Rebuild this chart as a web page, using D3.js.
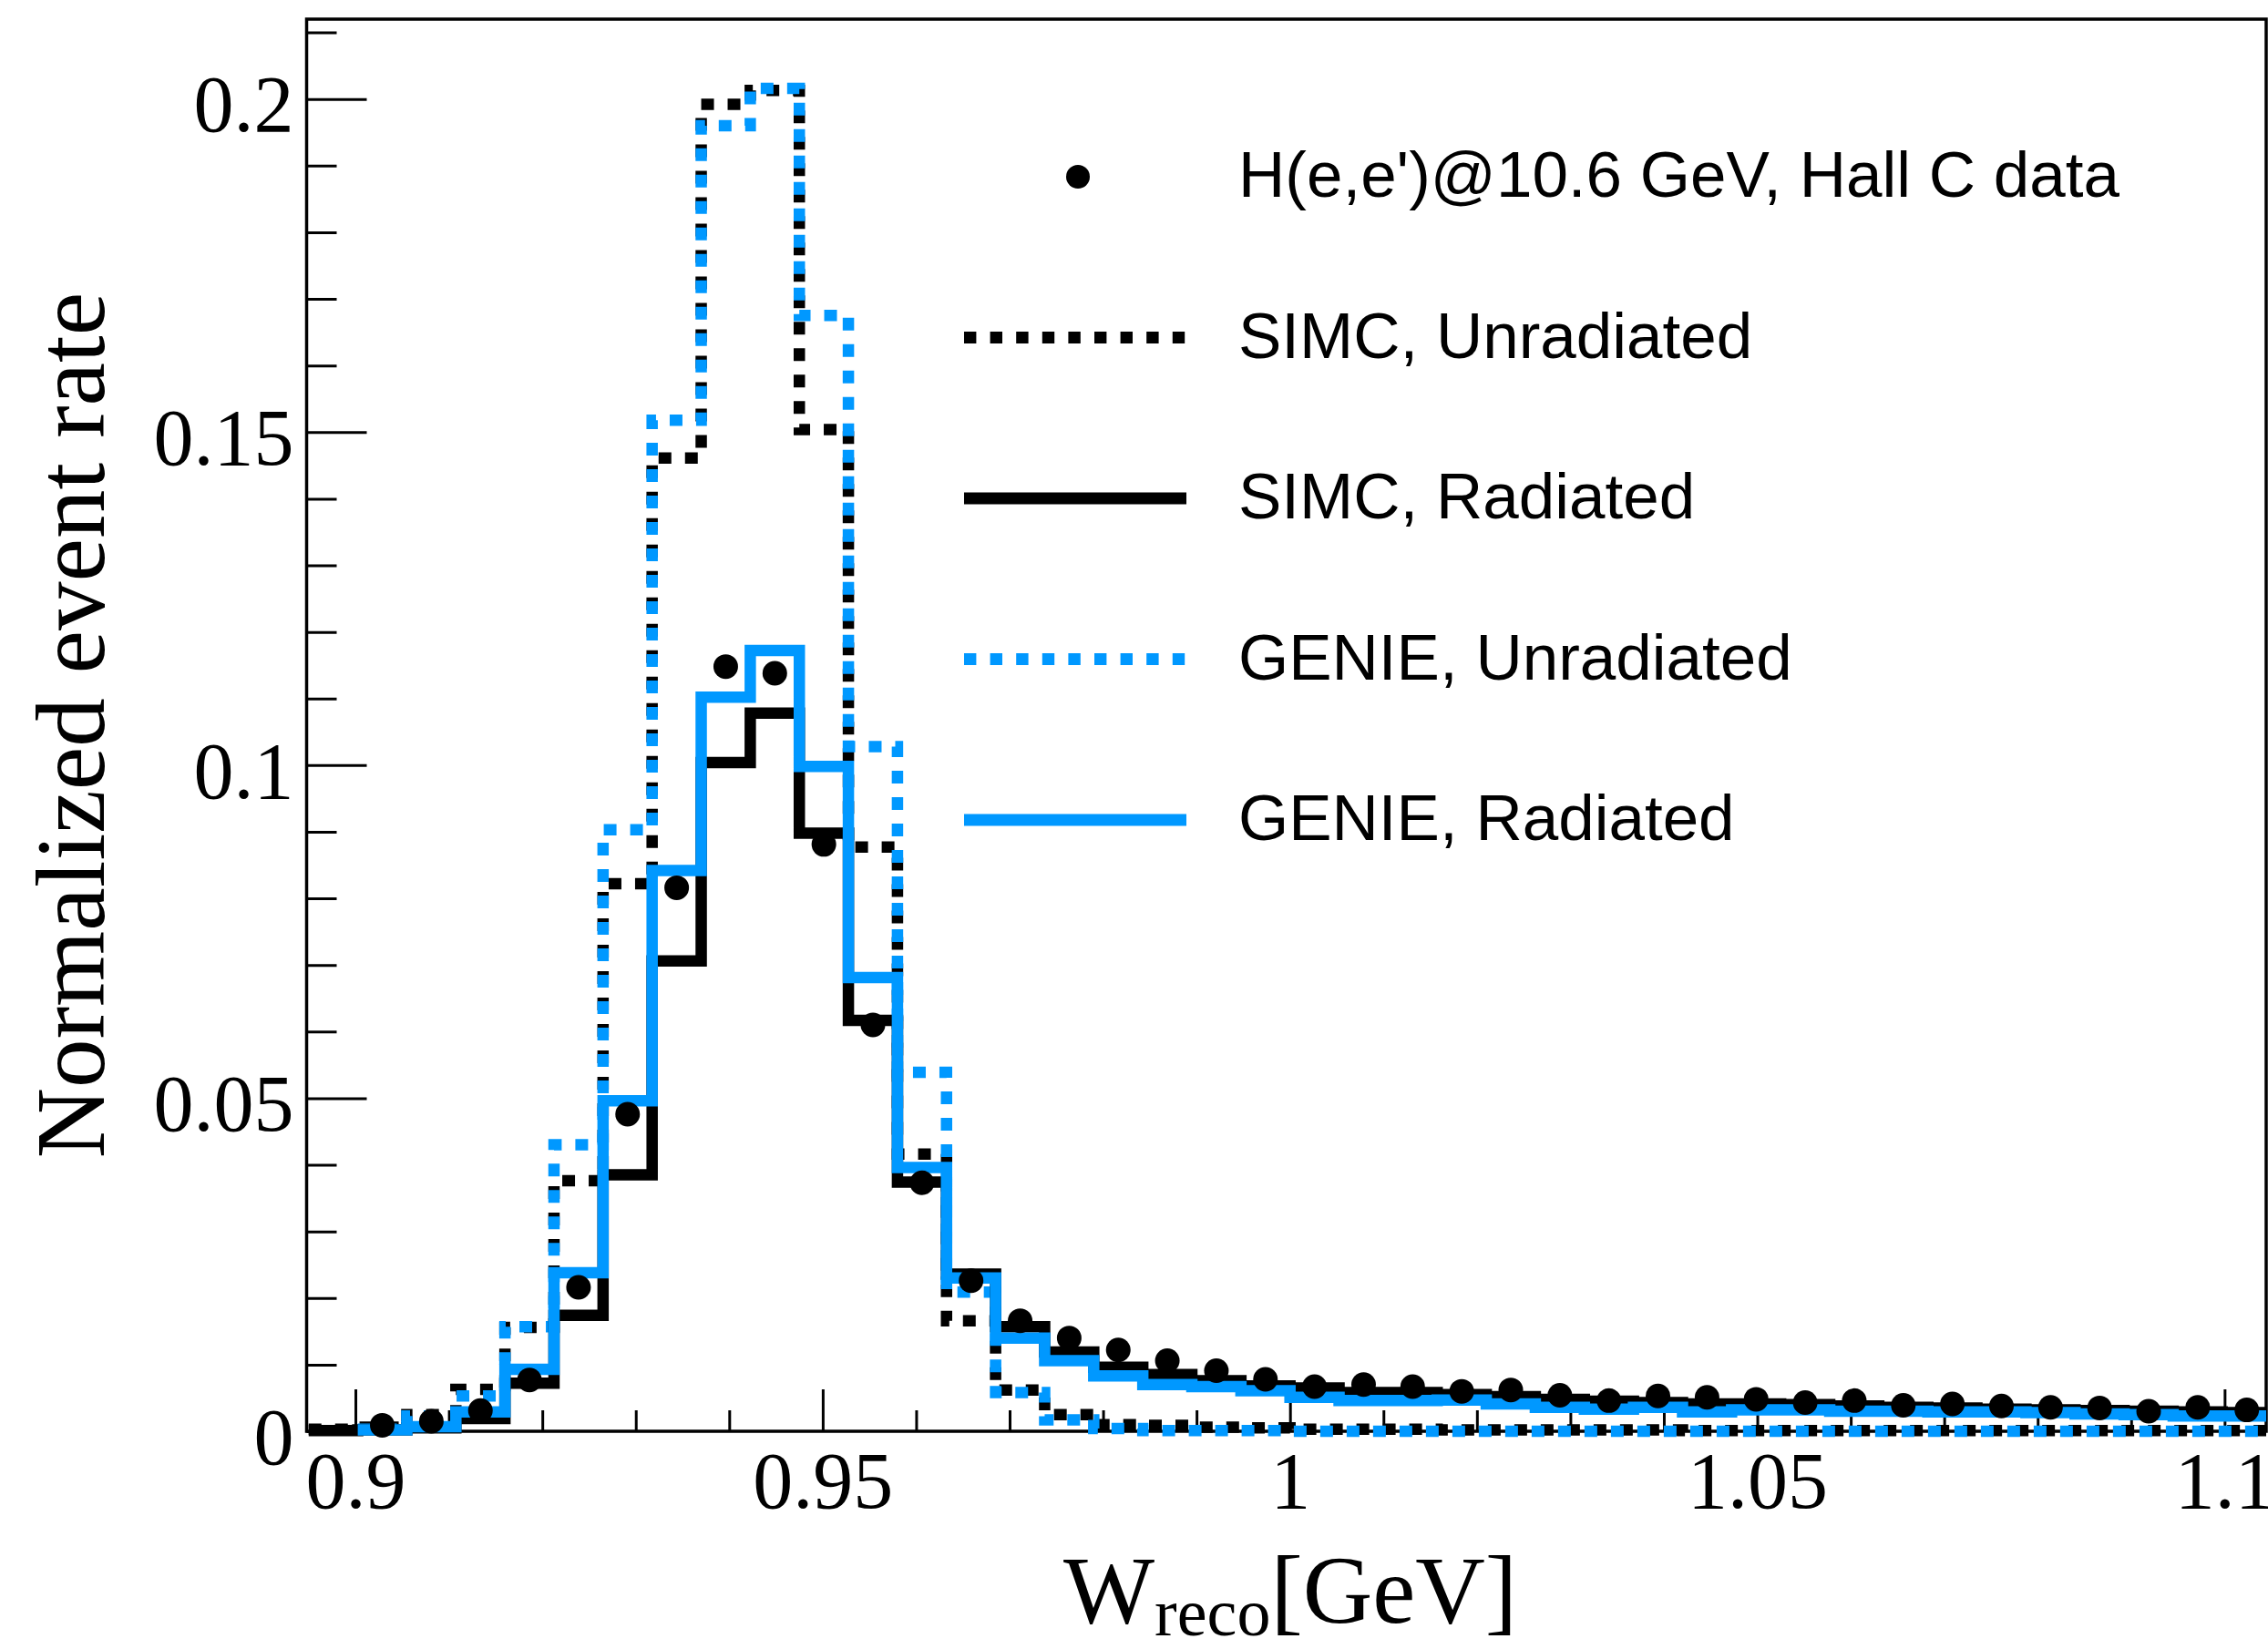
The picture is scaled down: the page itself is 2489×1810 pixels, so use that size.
<!DOCTYPE html>
<html><head><meta charset="utf-8">
<script src="https://cdn.jsdelivr.net/npm/d3@7"></script>
<style>html,body{margin:0;padding:0;background:#fff;} svg{display:block;}</style>
</head><body>
<svg id="chart" width="2489" height="1810"></svg>
<script>
// ---- histogram binning (40 bins) ----
const binLow = 0.895;
const binWidth = 0.00525;
const nBins = 40;

// ---- series values (per bin) ----
const dataRate = [null, 0.0009, 0.0015, 0.0031, 0.0077, 0.0216, 0.0476, 0.0816, 0.1148, 0.1138,
  0.0881, 0.0610, 0.0373, 0.0226, 0.0166, 0.0140, 0.0122, 0.0106, 0.0091, 0.0078,
  0.0067, 0.0070, 0.0067, 0.0060, 0.0062, 0.0054, 0.0046, 0.0053, 0.0051, 0.0048,
  0.0043, 0.0046, 0.0039, 0.0041, 0.0038, 0.0036, 0.0035, 0.0030, 0.0036, 0.0032];

const simcUnrad = [0.0003, 0.0006, 0.0025, 0.0063, 0.0156, 0.0376, 0.0822, 0.1461, 0.1992, 0.2013,
  0.1504, 0.0877, 0.0416, 0.0166, 0.0062, 0.0025, 0.0010, 0.0009, 0.0006, 0.0005,
  0.0003, 0.0003, 0.0003, 0.0002, 0.0002, 0.0002, 0.0002, 0.0002, 0.0001, 0.0001,
  0.0001, 0.0001, 0.0001, 0.0001, 0.0001, 0.0001, 0.0001, 0.0001, 0.0001, 0.0001];

const simcRad = [0.0001, 0.0002, 0.0005, 0.0019, 0.0072, 0.0174, 0.0385, 0.0706, 0.1004, 0.1078,
  0.0898, 0.0617, 0.0374, 0.0236, 0.0157, 0.0119, 0.0096, 0.0085, 0.0076, 0.0068,
  0.0065, 0.0058, 0.0058, 0.0055, 0.0052, 0.0048, 0.0045, 0.0043, 0.0041, 0.0041,
  0.0040, 0.0038, 0.0036, 0.0035, 0.0033, 0.0032, 0.0031, 0.0030, 0.0029, 0.0028];

const genieUnrad = [null, 0.0003, 0.0023, 0.0053, 0.0157, 0.0430, 0.0903, 0.1518, 0.1960, 0.2016,
  0.1675, 0.1028, 0.0539, 0.0209, 0.0058, 0.0017, 0.0004, 0.0001, 0.0001, 0.0001,
  0.0000, 0.0000, 0.0000, 0.0000, 0.0000, 0.0000, 0.0000, 0.0000, 0.0000, 0.0000,
  0.0000, 0.0000, 0.0000, 0.0000, 0.0000, 0.0000, 0.0000, 0.0000, 0.0000, 0.0000];

const genieRad = [null, 0.0002, 0.0007, 0.0029, 0.0093, 0.0238, 0.0496, 0.0842, 0.1102, 0.1172,
  0.0998, 0.0681, 0.0396, 0.0230, 0.0140, 0.0106, 0.0083, 0.0070, 0.0067, 0.0061,
  0.0051, 0.0046, 0.0046, 0.0047, 0.0041, 0.0036, 0.0033, 0.0036, 0.0029, 0.0032,
  0.0032, 0.0030, 0.0030, 0.0029, 0.0029, 0.0028, 0.0026, 0.0025, 0.0023, 0.0023];

// ---- axes ----
const xMajorTicks = [0.9, 0.95, 1.0, 1.05, 1.1];
const xTickLabels = ["0.9", "0.95", "1", "1.05", "1.1"];
const xMinorTicks = [0.91, 0.92, 0.93, 0.94, 0.96, 0.97, 0.98, 0.99, 1.01, 1.02, 1.03, 1.04, 1.06, 1.07, 1.08, 1.09];
const yMajorTicks = [0, 0.05, 0.1, 0.15, 0.2];
const yTickLabels = ["0", "0.05", "0.1", "0.15", "0.2"];
const yMinorTicks = [0.01, 0.02, 0.03, 0.04, 0.06, 0.07, 0.08, 0.09, 0.11, 0.12, 0.13, 0.14, 0.16, 0.17, 0.18, 0.19, 0.21];
const xDomain = [0.89478, 1.10445];
const yDomain = [0, 0.2120];

const legendLabels = ["H(e,e')@10.6 GeV, Hall C data", "SIMC, Unradiated", "SIMC, Radiated", "GENIE, Unradiated", "GENIE, Radiated"];

// ---- layout / style ----
const BLUE = "#0098ff";
const L = 336.5, R = 2487, T = 21, B = 1571;
const svg = d3.select("#chart");
svg.append("rect").attr("width", 2489).attr("height", 1810).attr("fill", "#fff");

const x = d3.scaleLinear().domain(xDomain).range([L, R]);
const y = d3.scaleLinear().domain(yDomain).range([B, T]);

const edges = d3.range(nBins + 1).map(i => binLow + i * binWidth);
const centers = d3.range(nBins).map(i => binLow + (i + 0.5) * binWidth);

// frame
svg.append("rect").attr("x", L).attr("y", T).attr("width", R - L).attr("height", B - T)
  .attr("fill", "none").attr("stroke", "#000").attr("stroke-width", 3.5);

function styleAxis(g) {
  g.select(".domain").remove();
  g.selectAll("line").attr("stroke", "#000").attr("stroke-width", 3);
}
// y axis
svg.append("g").attr("transform", `translate(${L},0)`)
  .call(d3.axisLeft(y).tickValues(yMinorTicks).tickSize(-33).tickFormat(""))
  .call(styleAxis);
const yAx = svg.append("g").attr("transform", `translate(${L},0)`)
  .call(d3.axisLeft(y).tickValues(yMajorTicks).tickSize(-66).tickPadding(14)
    .tickFormat((d, i) => yTickLabels[i]))
  .call(styleAxis);
yAx.selectAll("text").attr("font-family", "Liberation Serif").attr("font-size", 88)
  .attr("fill", "#000").attr("dy", "0.40em");

// x axis
svg.append("g").attr("transform", `translate(0,${B})`)
  .call(d3.axisBottom(x).tickValues(xMinorTicks).tickSize(-23).tickFormat(""))
  .call(styleAxis);
const xAx = svg.append("g").attr("transform", `translate(0,${B})`)
  .call(d3.axisBottom(x).tickValues(xMajorTicks).tickSize(-46).tickPadding(22)
    .tickFormat((d, i) => xTickLabels[i]))
  .call(styleAxis);
xAx.selectAll("text").attr("font-family", "Liberation Serif").attr("font-size", 88)
  .attr("fill", "#000");

// clip
svg.append("clipPath").attr("id", "plotclip").append("rect")
  .attr("x", L).attr("y", 0).attr("width", R - L).attr("height", 1620);

const plot = svg.append("g").attr("clip-path", "url(#plotclip)");

function stepPath(vals) {
  const pts = [];
  vals.forEach((v, i) => {
    if (v === null) return;
    pts.push([x(edges[i]), y(v)]);
    pts.push([x(edges[i + 1]), y(v)]);
  });
  return d3.line()(pts);
}

const DOT = "14 15";
plot.append("path").attr("d", stepPath(simcUnrad)).attr("fill", "none")
  .attr("stroke", "#000").attr("stroke-width", 12.5).attr("stroke-dasharray", DOT);
plot.append("path").attr("d", stepPath(genieUnrad)).attr("fill", "none")
  .attr("stroke", BLUE).attr("stroke-width", 12.5).attr("stroke-dasharray", DOT);
plot.append("path").attr("d", stepPath(simcRad)).attr("fill", "none")
  .attr("stroke", "#000").attr("stroke-width", 12.5);
plot.append("path").attr("d", stepPath(genieRad)).attr("fill", "none")
  .attr("stroke", BLUE).attr("stroke-width", 12.5);

plot.selectAll("circle.pt").data(dataRate.map((v, i) => ({v, c: centers[i]})).filter(d => d.v !== null))
  .enter().append("circle").attr("class", "pt")
  .attr("cx", d => x(d.c)).attr("cy", d => y(d.v)).attr("r", 13.5).attr("fill", "#000");

// axis titles
svg.append("text").attr("transform", "translate(114,796) rotate(-90)")
  .attr("text-anchor", "middle").attr("font-family", "Liberation Serif").attr("font-size", 107)
  .attr("fill", "#000").text("Normalized event rate");

const xt = svg.append("text").attr("x", 1167).attr("y", 1781)
  .attr("font-family", "Liberation Serif").attr("font-size", 106).attr("fill", "#000");
xt.append("tspan").text("W");
xt.append("tspan").attr("font-size", 74).attr("dy", 14).text("reco");
xt.append("tspan").attr("dy", -14).text("[GeV]");

// legend
const rowY0 = 194, rowDY = 176.5;
const legendStyles = [
  {type: "dot"},
  {type: "line", color: "#000", dash: DOT},
  {type: "line", color: "#000", dash: null},
  {type: "line", color: BLUE, dash: DOT},
  {type: "line", color: BLUE, dash: null}
];
legendLabels.forEach((lab, i) => {
  const ry = rowY0 + i * rowDY;
  const st = legendStyles[i];
  if (st.type === "dot") {
    svg.append("circle").attr("cx", 1183).attr("cy", ry).attr("r", 13).attr("fill", "#000");
  } else {
    const ln = svg.append("line").attr("x1", 1058).attr("x2", 1302).attr("y1", ry).attr("y2", ry)
      .attr("stroke", st.color).attr("stroke-width", 13);
    if (st.dash) ln.attr("stroke-dasharray", "13.4 15.2");
  }
  svg.append("text").attr("x", 1359).attr("y", ry + 22)
    .attr("font-family", "Liberation Sans").attr("font-size", 71).attr("fill", "#000").text(lab);
});
</script>
</body></html>
